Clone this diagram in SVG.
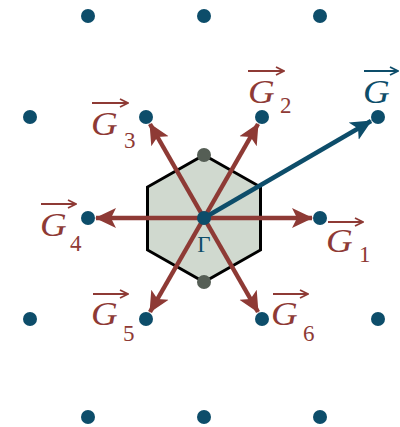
<svg xmlns="http://www.w3.org/2000/svg" width="400" height="427" viewBox="0 0 400 427">
<defs>
<style>
.lat{fill:#0d4d6a}
.vec{stroke:#8e3a35;stroke-width:4.5;fill:none}
.gvec{stroke:#0d4d6a;stroke-width:4.5;fill:none}
.lbl{font-family:"Liberation Serif",serif;font-style:italic;font-size:33px;fill:#8e3a35}
.sub{font-family:"Liberation Serif",serif;font-size:23px;fill:#8e3a35}
.lblb{font-family:"Liberation Serif",serif;font-style:italic;font-size:33px;fill:#0d4d6a}
.ov{stroke:#8e3a35;stroke-width:2;fill:none}
.ovb{stroke:#0d4d6a;stroke-width:2;fill:none}
</style>
<marker id="ar" viewBox="0 0 22 22" refX="20" refY="11" markerWidth="22" markerHeight="22" markerUnits="userSpaceOnUse" orient="auto">
<path d="M0,1 L21,11 L0,21 L5,11 z" fill="#8e3a35"/>
</marker>
<marker id="ab" viewBox="0 0 22 22" refX="20" refY="11" markerWidth="22" markerHeight="22" markerUnits="userSpaceOnUse" orient="auto">
<path d="M0,1 L21,11 L0,21 L5,11 z" fill="#0d4d6a"/>
</marker>
<marker id="sr" viewBox="0 0 10 10" refX="9" refY="5" markerWidth="10" markerHeight="10" markerUnits="userSpaceOnUse" orient="auto">
<path d="M1,1 L9,5 L1,9" fill="none" stroke="#8e3a35" stroke-width="1.8"/>
</marker>
<marker id="sb" viewBox="0 0 10 10" refX="9" refY="5" markerWidth="10" markerHeight="10" markerUnits="userSpaceOnUse" orient="auto">
<path d="M1,1 L9,5 L1,9" fill="none" stroke="#0d4d6a" stroke-width="1.8"/>
</marker>
</defs>
<rect width="400" height="427" fill="#ffffff"/>
<g id="brillouin-zone">
<polygon points="204,155 260.5,187 260.5,250 204,282 147.5,250 147.5,187" fill="#d0d9cf" stroke="#000" stroke-width="3" stroke-linejoin="miter"/>
<circle cx="204" cy="155" r="7" fill="#555e55"/>
<circle cx="204" cy="282" r="7" fill="#555e55"/>
</g>
<g id="connectors">
<line class="vec" x1="204" y1="218" x2="312" y2="218" marker-end="url(#ar)"/>
<line class="vec" x1="204" y1="218" x2="96" y2="218" marker-end="url(#ar)"/>
<line class="vec" x1="204" y1="218" x2="258" y2="124" marker-end="url(#ar)"/>
<line class="vec" x1="204" y1="218" x2="150" y2="124" marker-end="url(#ar)"/>
<line class="vec" x1="204" y1="218" x2="150" y2="312" marker-end="url(#ar)"/>
<line class="vec" x1="204" y1="218" x2="258" y2="312" marker-end="url(#ar)"/>
<line class="gvec" x1="204" y1="218" x2="371" y2="121" marker-end="url(#ab)"/>
</g>
<g id="lattice">
<circle class="lat" cx="88" cy="16" r="7"/>
<circle class="lat" cx="204" cy="16" r="7"/>
<circle class="lat" cx="320" cy="16" r="7"/>
<circle class="lat" cx="30" cy="117" r="7"/>
<circle class="lat" cx="146" cy="117" r="7"/>
<circle class="lat" cx="262" cy="117" r="7"/>
<circle class="lat" cx="378" cy="117" r="7"/>
<circle class="lat" cx="88" cy="218" r="7"/>
<circle class="lat" cx="320" cy="218" r="7"/>
<circle class="lat" cx="30" cy="319" r="7"/>
<circle class="lat" cx="146" cy="319" r="7"/>
<circle class="lat" cx="262" cy="319" r="7"/>
<circle class="lat" cx="378" cy="319" r="7"/>
<circle class="lat" cx="88" cy="417" r="7"/>
<circle class="lat" cx="204" cy="417" r="7"/>
<circle class="lat" cx="320" cy="417" r="7"/>
</g>
<g id="gamma">
<circle class="lat" cx="204" cy="218" r="7"/>
<text x="204" y="252" text-anchor="middle" font-family="Liberation Serif,serif" font-size="23" fill="#0d4d6a">Γ</text>
</g>
<g id="label-G1">
<line class="ov" x1="328" y1="222" x2="363" y2="222" marker-end="url(#sr)"/>
<text class="lbl" transform="translate(326,252) scale(1.12,1)">G</text><text class="sub" x="359" y="262">1</text>
</g>
<g id="label-G2">
<line class="ov" x1="248" y1="71" x2="284" y2="71" marker-end="url(#sr)"/>
<text class="lbl" transform="translate(248,103) scale(1.12,1)">G</text><text class="sub" x="280" y="113">2</text>
</g>
<g id="label-G3">
<line class="ov" x1="92" y1="103" x2="128" y2="103" marker-end="url(#sr)"/>
<text class="lbl" transform="translate(91,135) scale(1.12,1)">G</text><text class="sub" x="124" y="148">3</text>
</g>
<g id="label-G4">
<line class="ov" x1="41" y1="204" x2="76" y2="204" marker-end="url(#sr)"/>
<text class="lbl" transform="translate(40,236) scale(1.12,1)">G</text><text class="sub" x="70" y="251">4</text>
</g>
<g id="label-G5">
<line class="ov" x1="93" y1="294" x2="128" y2="294" marker-end="url(#sr)"/>
<text class="lbl" transform="translate(91,325) scale(1.12,1)">G</text><text class="sub" x="123" y="341">5</text>
</g>
<g id="label-G6">
<line class="ov" x1="273" y1="294" x2="308" y2="294" marker-end="url(#sr)"/>
<text class="lbl" transform="translate(271,325) scale(1.12,1)">G</text><text class="sub" x="303" y="341">6</text>
</g>
<g id="label-G">
<line class="ovb" x1="364" y1="71" x2="398" y2="71" marker-end="url(#sb)"/>
<text class="lblb" transform="translate(363,103) scale(1.12,1)">G</text>
</g>
</svg>
